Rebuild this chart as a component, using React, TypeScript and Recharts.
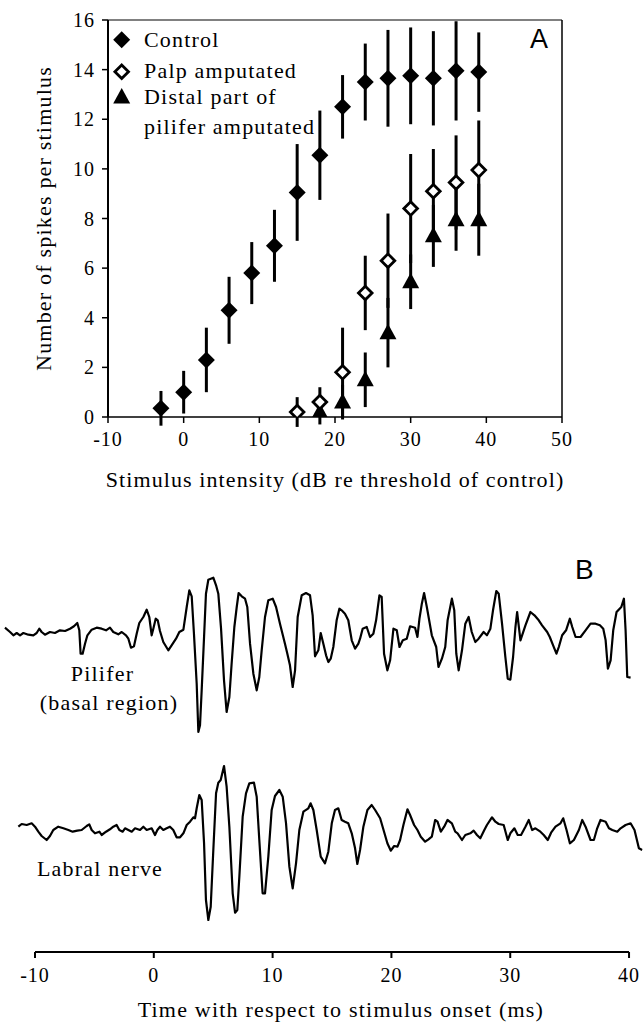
import React from 'react';
import {
  ScatterChart,
  Scatter,
  XAxis,
  YAxis,
  ErrorBar,
  ReferenceLine,
  Legend,
  LineChart,
  Line,
} from 'recharts';

const SERIF = 'Liberation Serif, DejaVu Serif, serif';
const SANS = 'Liberation Sans, Arial, sans-serif';

// ---- Panel A: spikes per stimulus vs stimulus intensity ----
const controlDb = [-3, 0, 3, 6, 9, 12, 15, 18, 21, 24, 27, 30, 33, 36, 39];
const controlSpikes = [0.35, 1.0, 2.3, 4.3, 5.8, 6.9, 9.05, 10.55, 12.5, 13.5, 13.65, 13.75, 13.65, 13.95, 13.9];
const controlSd = [0.7, 0.86, 1.3, 1.35, 1.25, 1.45, 1.95, 1.8, 1.28, 1.55, 1.95, 1.95, 1.9, 2.0, 1.6];

const palpDb = [15, 18, 21, 24, 27, 30, 33, 36, 39];
const palpSpikes = [0.2, 0.6, 1.8, 5.0, 6.3, 8.4, 9.1, 9.45, 9.95];
const palpSd = [0.6, 0.6, 1.8, 1.5, 1.9, 2.2, 1.7, 1.9, 2.0];

const distalDb = [18, 21, 24, 27, 30, 33, 36, 39];
const distalSpikes = [0.2, 0.6, 1.5, 3.4, 5.45, 7.3, 7.95, 7.95];
const distalSd = [0.5, 0.7, 1.1, 1.4, 1.1, 1.25, 1.25, 1.45];

const intensityTicks = [-10, 0, 10, 20, 30, 40, 50];
const spikeTicks = [0, 2, 4, 6, 8, 10, 12, 14, 16];

// ---- Panel B: recordings (time in ms, amplitude in arbitrary units) ----
const timeTicks = [-10, 0, 10, 20, 30, 40];

const piliferTime = [
  -12.53, -12.1, -11.82, -11.54, -11.26, -10.98, -10.56, -10.14, -9.86, -9.64,
  -9.44, -9.16, -8.74, -8.32, -7.9, -7.47, -7.05, -6.72, -6.44, -6.27,
  -6.16, -5.99, -5.79, -5.59, -5.23, -4.81, -4.39, -4.02, -3.69, -3.41,
  -2.99, -2.7, -2.34, -2.14, -1.92, -1.67, -1.44, -1.22, -0.88, -0.6,
  -0.38, -0.18, -0.04, 0.16, 0.33, 0.52, 0.8, 1.22, 1.5, 1.87,
  2.15, 2.49, 2.77, 2.99, 3.19, 3.38, 3.61, 3.75, 3.89, 4.03,
  4.23, 4.39, 4.59, 5.01, 5.24, 5.43, 5.66, 5.91, 6.13, 6.36,
  6.55, 6.78, 6.98, 7.14, 7.4, 7.68, 7.87, 8.1, 8.38, 8.66,
  8.88, 9.08, 9.36, 9.64, 10.01, 10.29, 10.62, 11.04, 11.24, 11.46,
  11.69, 11.89, 12.11, 12.45, 12.81, 13.15, 13.37, 13.57, 13.85, 14.05,
  14.27, 14.5,
  14.69, 14.89, 15.11, 15.39, 15.62, 15.81, 16.09, 16.37,
  16.66, 16.94, 17.22, 17.36, 17.58, 17.92, 18.2, 18.48, 18.71, 18.99,
  19.18, 19.38, 19.66, 19.89, 20.17, 20.45, 20.68, 20.96, 21.29, 21.57,
  21.99, 22.19, 22.36, 22.56, 22.75, 22.98, 23.4, 23.77, 23.96, 24.25,
  24.53, 24.73, 25.09, 25.29, 25.46, 25.66, 25.94, 26.22, 26.5, 26.76,
  27.06, 27.34, 27.76, 28.04, 28.33, 28.55, 28.83, 29.03, 29.31, 29.59,
  29.79, 30.01, 30.24, 30.44, 30.58, 30.86, 31.28, 31.7, 32.04, 32.4,
  32.68, 33.11, 33.33, 33.61, 33.89, 34.09, 34.37, 34.7, 35.02, 35.22,
  35.5, 35.92, 36.34, 36.76, 37.18, 37.55, 37.83, 38.03, 38.22, 38.45,
  38.67, 38.95, 39.35, 39.57, 39.71, 39.85, 40.13,
];
const piliferAmp = [
  0.43, 0, -0.33, -0.1, -0.33, -0.1, -0.27, -0.33, -0.1, 0.33,
  0, -0.27, 0, -0.1, 0.17, 0.1, 0.33, 0.57, 0.9, 0.17,
  -2.17, -2.17, -1.17, -0.33, 0.23, 0.43, 0.33, 0.17, 0.43, 0,
  -0.23, 0, -0.33, -0.67, -1.57, -1.43, -0.17, 0.9, 1.5, 2.23,
  1.5, -0.33, 0.33, 1.33, 1.17, 0.1, -1.0, -1.83, -1.33, -0.67,
  0, 0.23, 2.5, 4.17, 3.57, -0.17, -5.17, -10.0, -9.33, -5.83,
  -0.5, 3.83, 5.23, 5.43, 4.67, 3.83, 0.33, -4.83, -8.0, -6.5,
  -3.17, 0.5, 2.5, 3.9, 3.57, 3.33, 2.5, -1.17, -4.17, -5.83,
  -4.5, -1.83, 1.5, 3.17, 3.33, 2.5, 0.83, -1.17, -2.17, -3.33,
  -5.5, -3.83, 1.5, 3.67, 3.9, 3.67, 1.67, -2.43, -1.83, -0.1,
  -1.17, -2.33,
  -3.0, -2.67, -1.5, 1.17, 2.33, 2.17, 1.83, 1.17,
  -0.83, -1.67, -1.17, -0.67, 0.33, 0.5, -0.5, -0.17, 1.17, 3.67,
  3.5, -2.17, -3.83, -2.83, 0.33, 0.17, -1.5, -0.83, -0.67, 0.57,
  0.43, -0.5, 1.33, 2.83, 3.9, 2.5, -0.33, -1.5, -3.5, -2.67,
  -1.5, 1.17, 3.33, 2.17, -2.17, -3.83, -1.83, 0.83, 1.5, 0,
  -1.0, -0.67, 0, -0.33, 0.33, 2.17, 4.1, 3.83, 0.83, -2.5,
  -4.67, -4.77, -2.5, 0.5, 2.0, -0.83, 0.67, 2.0, 1.67, 1.17,
  0.67, 0, -0.5, -1.33, -2.17, -1.5, -0.33, 0.17, 1.33, 0.5,
  -0.5, -0.5, 0.17, 0.83, 0.83, 0.67, 0.33, -0.83, -3.67, -2.83,
  0.17, 2.0, 2.5, 3.33, 0.17, -4.5, -4.57,
];

const labralTime = [
  -11.4, -11.12, -10.7, -10.28, -10.0, -9.72, -9.44, -9.02, -8.74, -8.46,
  -8.04, -7.61, -7.19, -6.83, -6.44, -6.07, -5.65, -5.43, -5.23, -4.95,
  -4.58, -4.39, -4.02, -3.69, -3.41, -3.13, -2.9, -2.62, -2.42, -2.14,
  -1.86, -1.58, -1.16, -0.88, -0.6, -0.18, 0.1, 0.3, 0.52, 0.8,
  1.08, 1.36, 1.64, 1.92, 2.21, 2.49, 2.77, 3.05, 3.33, 3.47,
  3.61, 3.83, 4.03, 4.23, 4.39, 4.59, 4.79, 5.01, 5.24, 5.43,
  5.63, 5.91, 6.13, 6.36, 6.64, 6.84, 7.03, 7.2, 7.48, 7.76,
  8.04, 8.43, 8.66, 8.88, 9.16, 9.36, 9.64, 9.92, 10.2, 10.57,
  10.85, 11.13, 11.41, 11.69, 11.97, 12.25, 12.59, 13.01, 13.2, 13.43,
  13.71, 14.05, 14.41, 14.69, 14.98, 15.25, 15.53, 15.81, 16.09, 16.37,
  16.66, 16.94, 17.13, 17.36, 17.64, 17.98, 18.34, 18.63, 19.05, 19.38,
  19.66, 19.95, 20.23, 20.51, 20.73, 21.01, 21.35, 21.57, 21.91, 22.19,
  22.47, 22.84, 23.12, 23.4, 23.68, 23.88, 24.16, 24.44, 24.72, 25.09,
  25.37, 25.57, 25.94, 26.22, 26.64, 26.92, 27.2, 27.48, 27.82, 28.04,
  28.46, 28.75, 29.03, 29.45, 29.79, 30.01, 30.35, 30.63, 30.91, 31.28,
  31.56, 31.84, 32.12, 32.54, 32.82, 33.16, 33.44, 33.81, 34.23, 34.46,
  34.74, 35.02, 35.36, 35.78, 36.06, 36.34, 36.76, 37.04, 37.32, 37.6,
  38.03, 38.31, 38.59, 39.01, 39.29, 39.71, 40.13, 40.46, 40.83, 41.11,
];
const labralAmp = [
  0.33, 0.6, 0.5, 0.67, 0.33, -0.17, -0.6, -1.0, -0.6, 0,
  0.33, 0.17, 0, -0.17, -0.07, 0, 0.4, 0.57, 0, -0.33,
  -0.17, -0.5, -0.17, 0.07, 0.33, 0.5, 0, -0.17, 0.17, 0,
  -0.17, 0.17, 0, 0.33, 0, 0.17, -0.5, 0, 0.33, 0,
  0.17, 0.33, 0, -0.73, -0.73, -0.33, 0.5, 0.83, 1.27, 1.17,
  2.17, 3.5, 3.0, -1.33, -7.0, -9.0, -7.67, -2.0, 3.67, 4.73,
  5.0, 6.4, 4.33, 0.33, -6.33, -8.27, -8.0, -4.67, 1.33, 3.67,
  4.67, 4.73, 3.33, -1.0, -6.33, -6.33, -2.67, 2.0, 3.4, 4.0,
  3.33, 0.67, -3.67, -5.83, -3.33, 0, 1.83, 2.17, 2.67, 2.0,
  0, -2.67, -3.33, -2.17, 0.67, 2.0, 2.17, 1.0, 0.83, 0.67,
  -0.33, -1.83, -3.4, -2.0, 0.33, 2.0, 2.5, 2.0, 1.17, -0.17,
  -1.33, -2.07, -1.6, -1.67, -1.0, 0.5, 2.07, 1.5, 0.5, 0,
  -0.67, -1.17, -0.93, -0.67, 1.0, 0.83, -0.17, 0.33, 1.0, 0.67,
  -0.17, -0.33, -1.0, -0.5, -0.33, -0.07, -0.5, -0.83, 0, 0.5,
  1.27, 0.83, 0.6, 0.5, -1.0, -0.33, 0.17, -0.5, -0.5, 0.33,
  1.0, 0, 0.17, -0.17, -0.5, -1.0, -0.27, 0.33, 0.67, 1.17,
  0, -1.33, -1.0, 0, 1.0, 0.33, -1.0, -1.0, 0.17, 1.0,
  0.83, 0.17, 0, -0.17, 0.17, 0.5, 0.67, 0, -1.83, -2.0,
];

// vertical separation between the two traces (same units as amplitude)
const PILIFER_OFFSET = 19.8;
const TRACE_DOMAIN: [number, number] = [-12.2, 27];

const toPoints = (xs: number[], ys: number[], es: number[]) =>
  xs.map((x, i) => ({ x, y: ys[i], err: es[i] }));

const toTrace = (ts: number[], vs: number[], offset = 0) =>
  ts.map((t, i) => ({ t, v: vs[i] + offset }));

const controlData = toPoints(controlDb, controlSpikes, controlSd);
const palpData = toPoints(palpDb, palpSpikes, palpSd);
const distalData = toPoints(distalDb, distalSpikes, distalSd);
const piliferData = toTrace(piliferTime, piliferAmp, PILIFER_OFFSET);
const labralData = toTrace(labralTime, labralAmp);

function FilledDiamond({ cx, cy }: any) {
  const r = 8.5;
  return <path d={`M${cx},${cy - r}L${cx + r},${cy}L${cx},${cy + r}L${cx - r},${cy}Z`} fill="#000" />;
}

function OpenDiamond({ cx, cy }: any) {
  const r = 6.8;
  return (
    <path
      d={`M${cx},${cy - r}L${cx + r},${cy}L${cx},${cy + r}L${cx - r},${cy}Z`}
      fill="#fff"
      stroke="#000"
      strokeWidth={2.8}
    />
  );
}

function FilledTriangle({ cx, cy }: any) {
  return <path d={`M${cx},${cy - 9}L${cx + 8.5},${cy + 6.5}L${cx - 8.5},${cy + 6.5}Z`} fill="#000" />;
}

const textStyle = { fontFamily: SERIF, fontSize: 22, letterSpacing: '1.2px', fill: '#000' };

function LegendBox() {
  return (
    <svg width={420} height={140} style={{ display: 'block', overflow: 'visible' }}>
      <FilledDiamond cx={121.7} cy={39.7} />
      <text x={144} y={46.7} fontFamily={SERIF} style={textStyle}>Control</text>
      <OpenDiamond cx={121.7} cy={71.8} />
      <text x={144} y={77.5} fontFamily={SERIF} style={textStyle}>Palp amputated</text>
      <FilledTriangle cx={121.7} cy={97} />
      <text x={144} y={104} fontFamily={SERIF} style={textStyle}>Distal part of</text>
      <text x={144} y={133.5} fontFamily={SERIF} style={textStyle}>pilifer amputated</text>
    </svg>
  );
}

const tickStyle = { fontSize: 20, fill: '#000', fontFamily: SERIF, style: { fontFamily: SERIF, letterSpacing: '1px' } };

export default function App() {
  return (
    <div
      style={{
        position: 'absolute',
        left: 0,
        top: 0,
        width: 643,
        height: 1027,
        background: '#fff',
        fontFamily: SERIF,
      }}
    >
      <div style={{ position: 'absolute', left: 0, top: 0 }}>
        <ScatterChart width={643} height={500} margin={{ top: 20, right: 81, bottom: 0, left: 0 }}>
          <XAxis
            type="number"
            dataKey="x"
            domain={[-10, 50]}
            ticks={intensityTicks}
            height={83}
            tickSize={6}
            tickMargin={9}
            axisLine={{ stroke: '#000', strokeWidth: 1.5 }}
            tickLine={{ stroke: '#000', strokeWidth: 1.5 }}
            tick={tickStyle}
            label={{
              value: 'Stimulus intensity (dB re threshold of control)',
              position: 'insideBottom',
              offset: 13,
              fill: '#000',
              fontSize: 22,
              fontFamily: SERIF,
              style: { fontFamily: SERIF, letterSpacing: '1.1px' },
            }}
          />
          <YAxis
            type="number"
            dataKey="y"
            domain={[0, 16]}
            allowDataOverflow
            ticks={spikeTicks}
            width={108}
            tickSize={6}
            tickMargin={7}
            axisLine={{ stroke: '#000', strokeWidth: 2 }}
            tickLine={{ stroke: '#000', strokeWidth: 1.5 }}
            tick={tickStyle}
            label={{
              value: 'Number of spikes per stimulus',
              angle: -90,
              position: 'insideLeft',
              offset: 43,
              fill: '#000',
              fontSize: 22,
              fontFamily: SERIF,
              style: { fontFamily: SERIF, textAnchor: 'middle', letterSpacing: '1.2px' },
            }}
          />
          <ReferenceLine y={16} stroke="#808080" strokeWidth={2} />
          <ReferenceLine x={50} stroke="#000" strokeWidth={1.5} />
          <Legend
            layout="horizontal"
            verticalAlign="middle"
            align="center"
            wrapperStyle={{ left: 0, top: 0, width: 420, height: 140 }}
            content={() => <LegendBox />}
          />
          <Scatter name="Control" data={controlData} shape={FilledDiamond} isAnimationActive={false}>
            <ErrorBar dataKey="err" direction="y" width={0} stroke="#000" strokeWidth={3} />
          </Scatter>
          <Scatter name="Distal part of pilifer amputated" data={distalData} shape={FilledTriangle} isAnimationActive={false}>
            <ErrorBar dataKey="err" direction="y" width={0} stroke="#000" strokeWidth={3} />
          </Scatter>
          <Scatter name="Palp amputated" data={palpData} shape={OpenDiamond} isAnimationActive={false}>
            <ErrorBar dataKey="err" direction="y" width={0} stroke="#000" strokeWidth={3} />
          </Scatter>
        </ScatterChart>
      </div>

      <div style={{ position: 'absolute', left: 0, top: 540 }}>
        <LineChart width={643} height={487} margin={{ top: 20, right: 0.3, bottom: 0, left: 4.1 }}>
          <XAxis
            type="number"
            dataKey="t"
            domain={[-12.6, 41.15]}
            allowDataOverflow
            ticks={timeTicks}
            height={75}
            axisLine={false}
            tickSize={6}
            tickMargin={10}
            tickLine={{ stroke: '#000', strokeWidth: 2 }}
            tick={tickStyle}
            label={{
              value: 'Time with respect to stimulus onset (ms)',
              position: 'insideBottom',
              offset: 10,
              dx: 17.5,
              fill: '#000',
              fontSize: 22,
              fontFamily: SERIF,
              style: { fontFamily: SERIF, letterSpacing: '1.2px' },
            }}
          />
          <YAxis type="number" domain={TRACE_DOMAIN} allowDataOverflow hide />
          <ReferenceLine
            segment={[
              { x: -10, y: TRACE_DOMAIN[0] },
              { x: 40, y: TRACE_DOMAIN[0] },
            ]}
            stroke="#000"
            strokeWidth={2}
          />
          <Line
            data={piliferData}
            dataKey="v"
            type="linear"
            stroke="#000"
            strokeWidth={2.2}
            strokeLinejoin="round"
            dot={false}
            isAnimationActive={false}
          />
          <Line
            data={labralData}
            dataKey="v"
            type="linear"
            stroke="#000"
            strokeWidth={2.2}
            strokeLinejoin="round"
            dot={false}
            isAnimationActive={false}
          />
        </LineChart>
      </div>

      <svg
        width={643}
        height={1027}
        style={{ position: 'absolute', left: 0, top: 0, pointerEvents: 'none' }}
      >
        <text x={530} y={48} fontFamily={SANS} style={{ fontFamily: SANS, fontSize: 27, fill: '#000' }}>A</text>
        <text x={575} y={579} fontFamily={SANS} style={{ fontFamily: SANS, fontSize: 28, fill: '#000' }}>B</text>
        <text x={102.5} y={680.5} textAnchor="middle" fontFamily={SERIF} style={textStyle}>Pilifer</text>
        <text x={109} y={710} textAnchor="middle" fontFamily={SERIF} style={textStyle}>(basal region)</text>
        <text x={100} y={876} textAnchor="middle" fontFamily={SERIF} style={textStyle}>Labral nerve</text>
      </svg>
    </div>
  );
}
